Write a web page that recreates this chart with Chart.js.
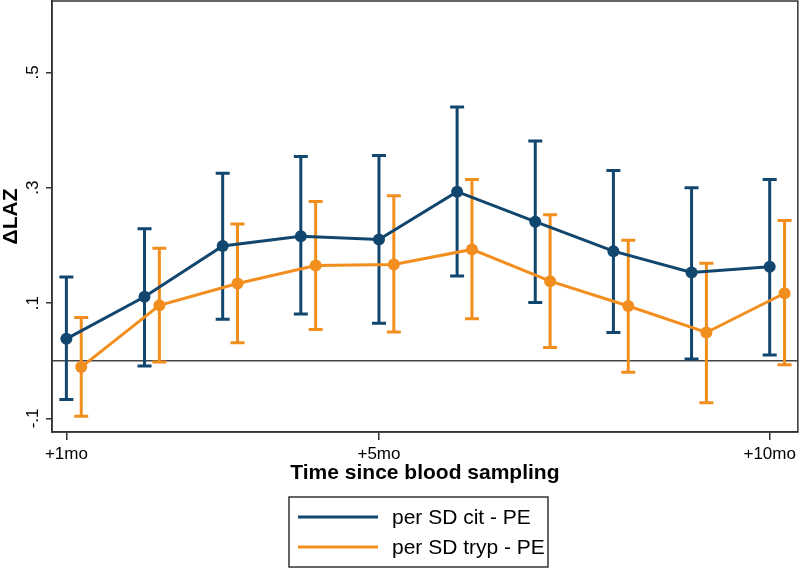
<!DOCTYPE html>
<html>
<head>
<meta charset="utf-8">
<script src="https://cdn.jsdelivr.net/npm/chart.js@4.4.0/dist/chart.umd.min.js"></script>
<style>
  html, body { margin: 0; padding: 0; background: #fff; }
  #wrap { width: 800px; height: 568px; }
</style>
</head>
<body>
<div id="wrap"><canvas id="c"></canvas></div>
<script>
// months after blood sampling
const months = [1, 2, 3, 4, 5, 6, 7, 8, 9, 10];
const xTicks = [1, 5, 10];
const xTickLabels = ['+1mo', '+5mo', '+10mo'];
const yTicks = [-0.1, 0.1, 0.3, 0.5];
const yTickLabels = ['-.1', '.1', '.3', '.5'];

// per SD cit - PE
const citMean = [0.038, 0.111, 0.199, 0.216, 0.210, 0.293, 0.241, 0.190, 0.153, 0.163];
const citLo   = [-0.067, -0.009, 0.072, 0.081, 0.065, 0.147, 0.101, 0.049, 0.003, 0.010];
const citHi   = [0.145, 0.229, 0.325, 0.354, 0.356, 0.440, 0.381, 0.330, 0.300, 0.314];

// per SD tryp - PE
const trypMean = [-0.011, 0.096, 0.134, 0.165, 0.167, 0.193, 0.138, 0.095, 0.049, 0.117];
const trypLo   = [-0.096, -0.002, 0.031, 0.054, 0.050, 0.073, 0.023, -0.020, -0.073, -0.007];
const trypHi   = [0.075, 0.195, 0.237, 0.276, 0.286, 0.314, 0.253, 0.209, 0.169, 0.243];
const trypShift = 0.19; // dodge so bars don't overlap

const NAVY = '#11466e';
const ORANGE = '#f28e1e';
const FONT = '"Liberation Sans", Arial, sans-serif';

const pts = (xs, ys, shift) => xs.map((m, i) => ({ x: m + shift, y: ys[i] }));

// CIs + zero line, drawn under the lines
const errorBars = {
  id: 'errorBars',
  beforeDatasetsDraw(chart) {
    const { ctx, chartArea, scales: { x, y } } = chart;
    ctx.save();
    ctx.strokeStyle = '#444';
    ctx.lineWidth = 1.5;
    const y0 = y.getPixelForValue(0);
    ctx.beginPath();
    ctx.moveTo(chartArea.left, y0);
    ctx.lineTo(chartArea.right, y0);
    ctx.stroke();

    chart.data.datasets.forEach(ds => {
      ctx.strokeStyle = ds.borderColor;
      ctx.lineWidth = 3;
      ds.data.forEach((p, i) => {
        const px = x.getPixelForValue(p.x);
        const top = y.getPixelForValue(ds.hi[i]);
        const bot = y.getPixelForValue(ds.lo[i]);
        ctx.beginPath();
        ctx.moveTo(px, top); ctx.lineTo(px, bot);
        ctx.moveTo(px - 7, top); ctx.lineTo(px + 7, top);
        ctx.moveTo(px - 7, bot); ctx.lineTo(px + 7, bot);
        ctx.stroke();
      });
    });
    ctx.restore();
  },
  afterDraw(chart) {
    const { ctx, chartArea: a, scales: { y } } = chart;
    ctx.save();
    // plot frame
    ctx.strokeStyle = '#333';
    ctx.lineWidth = 1.5;
    ctx.strokeRect(a.left, a.top, a.right - a.left, a.bottom - a.top);

    // rotated y tick labels
    ctx.fillStyle = '#000';
    ctx.font = '17px ' + FONT;
    ctx.textAlign = 'center';
    ctx.textBaseline = 'middle';
    y.ticks.forEach((t, i) => {
      const py = y.getPixelForValue(t.value);
      ctx.save();
      ctx.translate(33, py);
      ctx.rotate(-Math.PI / 2);
      ctx.fillText(yTickLabels[i], 0, 0);
      ctx.restore();
    });

    // legend box
    ctx.strokeStyle = '#333';
    ctx.lineWidth = 1.5;
    ctx.strokeRect(289, 497, 259, 70);
    ctx.font = '21px ' + FONT;
    ctx.textAlign = 'left';
    chart.data.datasets.forEach((ds, i) => {
      const ly = 517 + i * 30;
      ctx.strokeStyle = ds.borderColor;
      ctx.lineWidth = 3;
      ctx.beginPath();
      ctx.moveTo(298, ly); ctx.lineTo(378, ly);
      ctx.stroke();
      ctx.fillStyle = '#000';
      ctx.fillText(ds.label, 392, ly + 1);
    });
    ctx.restore();
  }
};

new Chart(document.getElementById('c'), {
  type: 'line',
  data: {
    datasets: [
      {
        label: 'per SD cit - PE',
        data: pts(months, citMean, 0),
        lo: citLo, hi: citHi,
        borderColor: NAVY, backgroundColor: NAVY,
        borderWidth: 3, pointRadius: 6, pointBorderWidth: 0, tension: 0
      },
      {
        label: 'per SD tryp - PE',
        data: pts(months, trypMean, trypShift),
        lo: trypLo, hi: trypHi,
        borderColor: ORANGE, backgroundColor: ORANGE,
        borderWidth: 3, pointRadius: 6, pointBorderWidth: 0, tension: 0
      }
    ]
  },
  options: {
    responsive: true,
    maintainAspectRatio: false,
    animation: false,
    events: [],
    layout: { autoPadding: false, padding: { top: 1, right: 2, bottom: 82, left: 0 } },
    plugins: { legend: { display: false }, tooltip: { enabled: false } },
    scales: {
      x: {
        type: 'linear',
        min: 0.816, max: 10.36,
        afterBuildTicks: s => { s.ticks = xTicks.map(v => ({ value: v })); },
        afterFit: s => { s.height = 54; },
        ticks: {
          callback: v => xTickLabels[xTicks.indexOf(v)],
          font: { family: FONT, size: 17 }, color: '#000', padding: 4,
          maxRotation: 0, autoSkip: false
        },
        grid: { drawOnChartArea: false, drawTicks: true, tickLength: 8, color: '#333', lineWidth: 1.5 },
        border: { color: '#333', width: 1.5 },
        title: {
          display: true, text: 'Time since blood sampling',
          font: { family: FONT, size: 21, weight: 'bold' }, color: '#000',
          padding: 0
        }
      },
      y: {
        type: 'linear',
        min: -0.1235, max: 0.6236,
        afterBuildTicks: s => { s.ticks = yTicks.map(v => ({ value: v })); },
        afterFit: s => { s.width = 52; },
        ticks: { display: false },
        grid: { drawOnChartArea: false, drawTicks: true, tickLength: 6, color: '#333', lineWidth: 1.5 },
        border: { color: '#333', width: 1.5 },
        title: {
          display: true, text: 'ΔLAZ',
          font: { family: FONT, size: 21, weight: 'bold', lineHeight: 1.1 }, color: '#000',
          padding: 0
        }
      }
    }
  },
  plugins: [errorBars]
});
</script>
</body>
</html>
